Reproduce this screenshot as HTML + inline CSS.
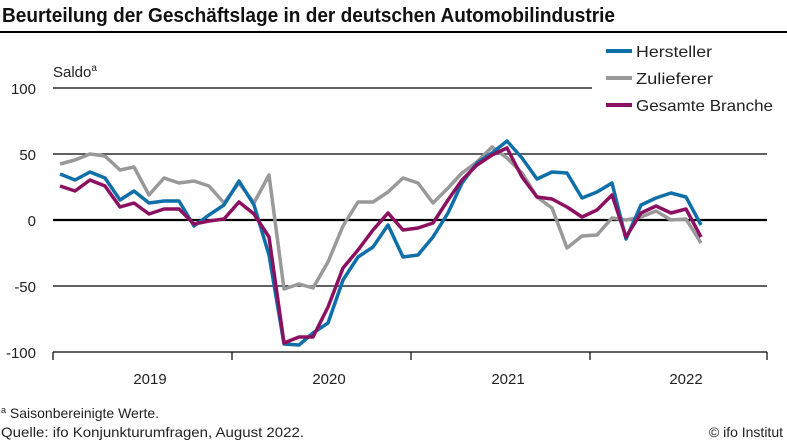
<!DOCTYPE html>
<html><head><meta charset="utf-8"><style>
html,body{margin:0;padding:0;background:#fff}
svg{display:block;font-family:"Liberation Sans",sans-serif}
</style></head><body>
<svg width="787" height="443" viewBox="0 0 787 443" xmlns="http://www.w3.org/2000/svg">
<text x="2" y="22" font-size="20" font-weight="bold" fill="#111" textLength="613" lengthAdjust="spacingAndGlyphs">Beurteilung der Geschäftslage in der deutschen Automobilindustrie</text>
<line x1="0" y1="32" x2="787" y2="32" stroke="#000" stroke-width="2"/>
<g stroke="#000" stroke-width="1.2">
<line x1="53" y1="88" x2="592" y2="88"/>
<line x1="53" y1="154" x2="767" y2="154"/>
<line x1="53" y1="286" x2="767" y2="286"/>
<line x1="53" y1="352" x2="767" y2="352"/>
<line x1="53" y1="352" x2="53" y2="360"/>
<line x1="232" y1="352" x2="232" y2="360"/>
<line x1="411" y1="352" x2="411" y2="360"/>
<line x1="590" y1="352" x2="590" y2="360"/>
<line x1="767" y1="352" x2="767" y2="360"/>
</g>
<line x1="53" y1="220" x2="767" y2="220" stroke="#000" stroke-width="2.2"/>
<g font-size="15" fill="#222" text-anchor="end">
<text x="36" y="94">100</text><text x="36" y="160">50</text><text x="36" y="226">0</text><text x="36" y="292">-50</text><text x="36" y="358">-100</text>
</g>
<text x="53" y="77" font-size="15" fill="#222">Saldo<tspan font-size="10" dy="-6">a</tspan></text>
<g font-size="15" fill="#222" text-anchor="middle">
<text x="150" y="384">2019</text><text x="329" y="384">2020</text><text x="508" y="384">2021</text><text x="686" y="384">2022</text>
</g>
<g fill="none" stroke-width="3.5" stroke-linejoin="round">
<polyline stroke="#999999" points="60,164 75,160 90,154 105,156 120,170 134,167 149,195 164,178 179,183 194,181 209,186 224,203 239,183 254,203 269,175 284,289 299,284 313,288 328,262 343,226 358,202 373,202 388,192 403,178 418,183 433,203 448,188 462,173 477,162 492,147 507,158 522,173 537,197 552,208 567,248 582,236 597,235 612,218 626,220 641,217 656,211 671,220 686,219 701,243"/>
<polyline stroke="#0f6fa8" points="60,174 75,180 90,172 105,178 120,200 134,191 149,203 164,201 179,201 194,226 209,215 224,205 239,181 254,205 269,255 284,344 299,345 313,333 328,323 343,280 358,257 373,247 388,225 403,257 418,255 433,237 448,213 462,183 477,163 492,153 507,141 522,158 537,179 552,172 567,173 582,198 597,192 612,183 626,239 641,205 656,198 671,193 686,197 701,225"/>
<polyline stroke="#8b1060" points="60,186 75,191 90,180 105,186 120,207 134,203 149,214 164,209 179,209 194,224 209,221 224,219 239,202 254,214 269,237 284,343 299,337 313,337 328,307 343,268 358,250 373,230 388,213 403,230 418,228 433,223 448,200 462,180 477,165 492,155 507,148 522,177 537,197 552,199 567,207 582,217 597,210 612,195 626,237 641,213 656,206 671,213 686,209 701,237"/>
</g>
<g stroke-width="4">
<line x1="606" y1="51" x2="632" y2="51" stroke="#0f6fa8"/>
<line x1="606" y1="78" x2="632" y2="78" stroke="#999999"/>
<line x1="606" y1="105" x2="632" y2="105" stroke="#8b1060"/>
</g>
<g font-size="16" fill="#222">
<text x="636" y="57" textLength="76" lengthAdjust="spacingAndGlyphs">Hersteller</text>
<text x="636" y="84" textLength="77" lengthAdjust="spacingAndGlyphs">Zulieferer</text>
<text x="636" y="111" textLength="137" lengthAdjust="spacingAndGlyphs">Gesamte Branche</text>
</g>
<g font-size="14" fill="#222">
<text x="1" y="418"><tspan font-size="9" dy="-5">a</tspan><tspan dy="5"> Saisonbereinigte Werte.</tspan></text>
<text x="1" y="437" textLength="303" lengthAdjust="spacingAndGlyphs">Quelle: ifo Konjunkturumfragen, August 2022.</text>
<text x="783" y="437" text-anchor="end">© ifo Institut</text>
</g>
</svg>
</body></html>
